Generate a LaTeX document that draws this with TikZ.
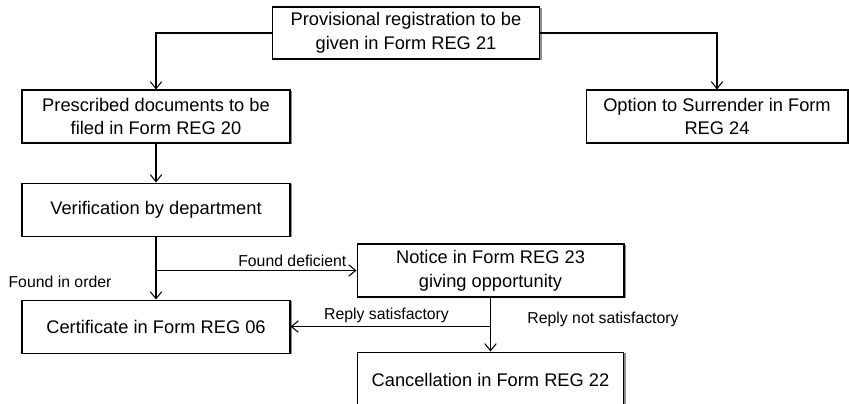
\documentclass[tikz,border=0pt]{standalone}
\usepackage{fontspec}
\setmainfont{Liberation Sans}
\usepackage{tikz}
\usetikzlibrary{positioning,arrows.meta,shadows}

\begin{document}
\begin{tikzpicture}[
    x=0.02cm, y=-0.02cm,
    node distance=1cm,
    block/.style={draw, rectangle, fill=white, line width=0.6pt, minimum width=5.36cm, minimum height=1.06cm, align=center, inner sep=2pt,
        font=\fontsize{10.4}{13.6}\selectfont, drop shadow={shadow xshift=1.2pt, shadow yshift=-0.8pt, fill=black, opacity=0.45}},
    lbl/.style={font=\fontsize{9}{11}\selectfont, inner sep=2pt},
    arrow/.style={-{Straight Barb[length=4pt,width=6.5pt]}, line width=0.6pt}
]
    \useasboundingbox (0,0) rectangle (849,403);

    % Top of the tree
    \node [block, minimum width=5.34cm, minimum height=1.04cm] (prov) at (406,33) {Provisional registration to be\\given in Form REG 21};
    \node [block] (docs) at (156,116.5) {Prescribed documents to be\\filed in Form REG 20};
    \node [block, minimum width=5.24cm] (option) at (717,116.5) {Option to Surrender in Form\\REG 24};

    % Left column
    \node [block, below=0.78cm of docs] (verif) {Verification by department};
    \node [block, below=1.26cm of verif] (cert) {Certificate in Form REG 06};

    % Deficiency branch
    \node [block, minimum width=5.34cm] (notice) at (490.5,270.5) {Notice in Form REG 23\\giving opportunity};
    \node [block, minimum width=5.32cm, minimum height=1.1cm, below=1.08cm of notice] (cancel) {Cancellation in Form REG 22};

    % Connections
    \draw [arrow] (prov.west) -| (docs.north);
    \draw [arrow] (prov.east) -| (option.north);
    \draw [arrow] (docs) -- (verif);
    \draw [arrow] (verif) -- (cert);
    \draw [arrow] (verif.south |- notice.west) -- node[lbl, above, pos=0.68] {Found deficient} (notice.west);
    \draw [arrow] (notice) -- (cancel);
    \draw [arrow] (notice.south |- cert.east) -- node[lbl, above, pos=0.52] {Reply satisfactory} (cert.east);

    % Free labels
    \node [lbl] (inorder) at (60,282) {Found in order};
    \node [lbl] (notok) at (603,319) {Reply not satisfactory};

\end{tikzpicture}
\end{document}
